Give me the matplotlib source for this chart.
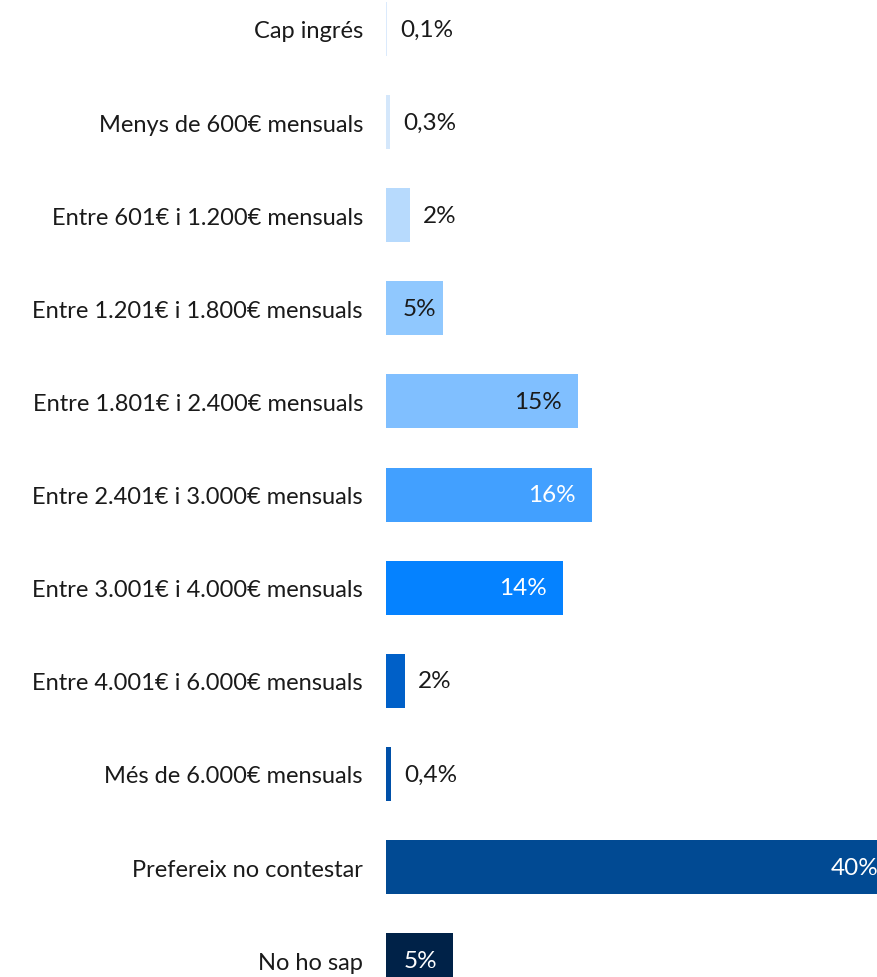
import matplotlib
matplotlib.use("Agg")
import matplotlib.pyplot as plt

plt.rcParams["font.family"] = ["Lato", "DejaVu Sans"]

categories = [
    "Cap ingrés",
    "Menys de 600€ mensuals",
    "Entre 601€ i 1.200€ mensuals",
    "Entre 1.201€ i 1.800€ mensuals",
    "Entre 1.801€ i 2.400€ mensuals",
    "Entre 2.401€ i 3.000€ mensuals",
    "Entre 3.001€ i 4.000€ mensuals",
    "Entre 4.001€ i 6.000€ mensuals",
    "Més de 6.000€ mensuals",
    "Prefereix no contestar",
    "No ho sap",
]
values = [0.1, 0.3, 1.9, 4.5, 15.1, 16.2, 13.9, 1.5, 0.4, 40.0, 5.3]
value_labels = ["0,1%", "0,3%", "2%", "5%", "15%", "16%", "14%", "2%", "0,4%", "40%", "5%"]
colors = ["#dbeafc", "#d4e7fb", "#b7dafd", "#90c8fe", "#80bfff", "#42a0ff",
          "#0582ff", "#0060c8", "#0050a8", "#014a93", "#002248"]
inside = [False, False, False, True, True, True, True, False, False, True, True]
label_colors = ["#1a1a1a", "#1a1a1a", "#1a1a1a", "#1a1a1a", "#1a1a1a", "white",
                "white", "#1a1a1a", "#1a1a1a", "white", "white"]

W, H, DPI = 877, 978, 100
PX = 72 / DPI  # points per pixel
fig = plt.figure(figsize=(W / DPI, H / DPI), dpi=DPI)
ax = fig.add_axes([386 / W, 0, 1 - 386 / W, 1])

y = list(range(len(categories)))
ax.barh(y, values, height=0.58, color=colors)

ax.set_xlim(0, 38.66)
ax.set_ylim(10.18, -0.322)
ax.set_yticks(y)
ax.set_yticklabels(categories, fontsize=17, color="#1a1a1a")
ax.tick_params(axis="y", length=0, pad=23 * PX)
ax.set_xticks([])
for s in ax.spines.values():
    s.set_visible(False)

fig.canvas.draw()
renderer = fig.canvas.get_renderer()
x0 = ax.transData.transform((0, 0))[0]
for i, v in enumerate(values):
    if inside[i]:
        t = ax.annotate(value_labels[i], (v, i), xytext=(-16 * PX, 0), textcoords="offset points",
                        ha="right", va="center", fontsize=17.5, color=label_colors[i],
                        annotation_clip=False)
        bb = t.get_window_extent(renderer)
        if bb.x0 < x0 + 17:
            t.remove()
            ax.annotate(value_labels[i], (0, i), xytext=(17 * PX, 0), textcoords="offset points",
                        ha="left", va="center", fontsize=17.5, color=label_colors[i])
    else:
        ax.annotate(value_labels[i], (v, i), xytext=(13 * PX, 0), textcoords="offset points",
                    ha="left", va="center", fontsize=17.5, color=label_colors[i])

fig.savefig("out.png", dpi=DPI)
